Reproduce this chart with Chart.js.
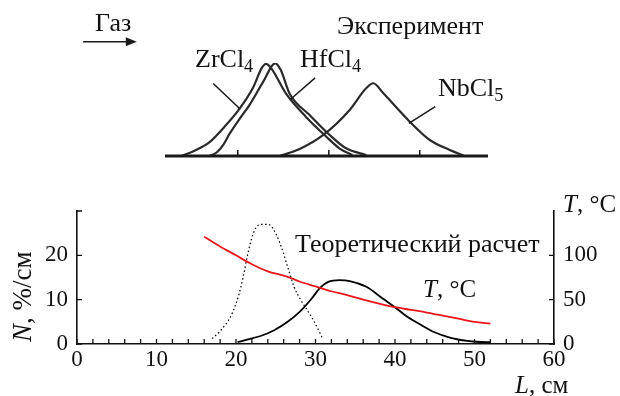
<!DOCTYPE html>
<html>
<head>
<meta charset="utf-8">
<script src="https://cdn.jsdelivr.net/npm/chart.js@4.4.0/dist/chart.umd.min.js"></script>
<style>
  html, body { margin: 0; padding: 0; background: #fff; }
  #wrap { position: relative; width: 620px; height: 396px; overflow: hidden;
          font-family: "Liberation Serif", "Times New Roman", serif; color: #111; }
  canvas { position: absolute; left: 0; }
  .lbl { position: absolute; white-space: nowrap; line-height: 1; font-size: 25px; }
  .top { font-size: 26px; }
  .lbl sub { font-size: 0.7em; vertical-align: -0.3em; line-height: 0; }
  .rot { transform: rotate(-90deg); transform-origin: left top; font-size: 27px; }
</style>
</head>
<body>
<div id="wrap">
  <canvas id="expChart" width="620" height="175" style="top:0"></canvas>
  <canvas id="calcChart" width="620" height="221" style="top:175px"></canvas>

  <div class="lbl top" style="left:95px;top:10px">Газ</div>
  <div class="lbl top" style="left:337px;top:13px">Эксперимент</div>
  <div class="lbl top" style="left:195px;top:46px">ZrCl<sub>4</sub></div>
  <div class="lbl top" style="left:300px;top:46px">HfCl<sub>4</sub></div>
  <div class="lbl top" style="left:438px;top:75px">NbCl<sub>5</sub></div>

  <div class="lbl" style="left:295px;top:231px;font-size:26px">Теоретический расчет</div>
  <div class="lbl" style="left:423px;top:276px"><i>T</i>, °C</div>
  <div class="lbl" style="left:563px;top:191px"><i>T</i>, °C</div>
  <div class="lbl" style="left:515px;top:372px"><i>L</i>, см</div>
  <div class="lbl rot" style="left:9px;top:342px"><i>N</i>, %/см</div>
</div>

<script>
// experiment sketch (top) - arbitrary length units along the column
const zrX = [3.8, 5.3, 6.9, 8.5, 10.2, 11.7, 12.6, 13.1, 13.7, 15.3, 17.5, 19.7, 21.2, 22.6];
const zrY = [0, 6, 15, 31, 51, 74, 94, 99, 94, 67, 42, 21, 8, 1];
const hfX = [6.9, 7.7, 8.4, 9.1, 10.2, 11.3, 12.8, 14.1, 14.7, 15.7, 17.9, 20.1, 21.9, 24.1];
const hfY = [0, 4, 12, 24, 40, 55, 80, 99.7, 93, 67, 44, 22.6, 8.3, 1];
const nbX = [14.6, 16.8, 19.4, 22.3, 24.1, 24.9, 26.0, 28.9, 31.1, 33.3, 34.8];
const nbY = [0, 7.5, 22.6, 49.5, 72.8, 78.2, 67.4, 36.9, 17.2, 6.5, 0.5];
const expTicks = [10, 20, 30];
// leader lines [x1, y1, x2, y2] and gas arrow, in the sketch's own units
const leaders = [
  [7.3, 78, 10.2, 51],
  [18.5, 84, 15.8, 61],
  [31.7, 53, 28.8, 35]
];
const gasArrow = [-7.0, 122.9, -1.1, 122.9];

// theoretical calculation (bottom)
const lTicks = [0, 10, 20, 30, 40, 50, 60];
const nTicks = [0, 10, 20, 30];
const tTicks = [0, 50, 100, 150];
const dotL = [17, 18.1, 19.3, 20.0, 20.4, 20.9, 21.4, 21.9, 22.5, 23.3, 24.2, 25.0, 25.7, 26.5, 27.3, 28.2, 29.5, 30.5, 30.9];
const dotN = [1.2, 3.1, 6.1, 9.1, 11.4, 15.1, 19.6, 23.4, 26.2, 27.0, 26.9, 24.9, 21.9, 17.4, 12.9, 9.8, 6.1, 2.7, 1.2];
const solidL = [20.2, 21.4, 23.1, 24.8, 26.5, 28.2, 29.5, 30.6, 31.6, 33.0, 34.3, 36.4, 38.5, 40.0, 41.5, 43.2, 44.9, 47.0, 49.1, 50.7, 52.0];
const solidN = [0.4, 1.0, 1.8, 3.1, 5.0, 7.6, 10.2, 12.7, 14.0, 14.4, 14.2, 12.9, 10.2, 8.3, 6.2, 4.4, 2.7, 1.4, 0.7, 0.45, 0.4];
const tempL = [16, 18, 20, 22, 24, 26, 27, 28, 30, 32, 34, 36, 38, 40, 42, 44, 46, 48, 50, 52];
const tempT = [121, 110, 100, 90, 82, 77, 74, 70.5, 65, 59.5, 55, 50, 45.5, 41.5, 38.5, 35.5, 32, 28.5, 25, 23];

const pts = (xs, ys) => xs.map((x, i) => ({ x, y: ys[i] }));
const serif = '"Liberation Serif", "Times New Roman", serif';

const expDecor = {
  id: 'expDecor',
  afterDatasetsDraw(chart) {
    const { ctx, scales: { x, y } } = chart;
    const base = y.getPixelForValue(0);
    ctx.save();
    ctx.strokeStyle = '#1a1a1a';
    ctx.lineWidth = 3;
    ctx.beginPath();
    ctx.moveTo(x.getPixelForValue(x.min), base);
    ctx.lineTo(x.getPixelForValue(x.max), base);
    ctx.stroke();

    ctx.lineWidth = 1.5;
    ctx.beginPath();
    expTicks.forEach(v => {
      const px = x.getPixelForValue(v);
      ctx.moveTo(px, base);
      ctx.lineTo(px, base - 6);
    });
    leaders.forEach(([x1, y1, x2, y2]) => {
      ctx.moveTo(x.getPixelForValue(x1), y.getPixelForValue(y1));
      ctx.lineTo(x.getPixelForValue(x2), y.getPixelForValue(y2));
    });
    // arrow shaft
    const ax1 = x.getPixelForValue(gasArrow[0]), ay = y.getPixelForValue(gasArrow[1]);
    const ax2 = x.getPixelForValue(gasArrow[2]);
    ctx.moveTo(ax1, ay);
    ctx.lineTo(ax2 - 8, ay);
    ctx.stroke();
    ctx.fillStyle = '#1a1a1a';
    ctx.beginPath();
    ctx.moveTo(ax2, ay);
    ctx.lineTo(ax2 - 11, ay - 4.5);
    ctx.lineTo(ax2 - 11, ay + 4.5);
    ctx.closePath();
    ctx.fill();
    ctx.restore();
  }
};

const inwardTicks = {
  id: 'inwardTicks',
  afterDatasetsDraw(chart) {
    const { ctx, chartArea: a, scales } = chart;
    ctx.save();
    ctx.strokeStyle = '#111';
    ctx.lineWidth = 1.3;
    ctx.beginPath();
    scales.x.ticks.forEach(t => {
      const px = scales.x.getPixelForValue(t.value);
      ctx.moveTo(px, a.bottom);
      ctx.lineTo(px, a.bottom - 5);
    });
    scales.y.ticks.forEach(t => {
      const py = scales.y.getPixelForValue(t.value);
      ctx.moveTo(a.left, py);
      ctx.lineTo(a.left + 5, py);
    });
    scales.y2.ticks.forEach(t => {
      if (t.value >= tTicks[tTicks.length - 1]) return;
      const py = scales.y2.getPixelForValue(t.value);
      ctx.moveTo(a.right, py);
      ctx.lineTo(a.right - 5, py);
    });
    ctx.stroke();
    ctx.restore();
  }
};

new Chart(document.getElementById('expChart').getContext('2d'), {
  type: 'line',
  data: {
    datasets: [
      { data: pts(zrX, zrY) },
      { data: pts(hfX, hfY) },
      { data: pts(nbX, nbY) }
    ]
  },
  options: {
    responsive: false,
    animation: false,
    layout: { padding: { left: 165, right: 132, top: 63, bottom: 19 } },
    plugins: { legend: { display: false }, tooltip: { enabled: false } },
    elements: {
      point: { radius: 0 },
      line: { borderColor: '#2a2a2a', borderWidth: 2.2, cubicInterpolationMode: 'monotone' }
    },
    scales: {
      x: { type: 'linear', min: 2, max: 37.5, display: false },
      y: { min: 0, max: 100, display: false }
    }
  },
  plugins: [expDecor]
});

const tickFont = { family: serif, size: 23 };

new Chart(document.getElementById('calcChart').getContext('2d'), {
  type: 'line',
  data: {
    datasets: [
      { data: pts(tempL, tempT), yAxisID: 'y2', borderColor: '#e8161c', borderWidth: 1.8 },
      { data: pts(solidL, solidN), yAxisID: 'y', borderColor: '#000', borderWidth: 1.8 },
      { data: pts(dotL, dotN), yAxisID: 'y', borderColor: '#000', borderWidth: 1.2, borderDash: [1.5, 2.5] }
    ]
  },
  options: {
    responsive: false,
    animation: false,
    layout: { padding: { top: 36, left: 0, right: 0, bottom: 0 } },
    plugins: { legend: { display: false }, tooltip: { enabled: false } },
    elements: {
      point: { radius: 0 },
      line: { cubicInterpolationMode: 'monotone' }
    },
    scales: {
      x: {
        type: 'linear', min: lTicks[0], max: lTicks[lTicks.length - 1],
        ticks: {
          stepSize: 2, autoSkip: false, maxRotation: 0, padding: 2,
          color: '#111', font: tickFont,
          callback: v => lTicks.includes(v) ? v : ''
        },
        grid: { display: false, drawTicks: false },
        border: { color: '#111', width: 1.6 },
        afterFit: s => { s.height = 52; }
      },
      y: {
        position: 'left', min: nTicks[0], max: nTicks[nTicks.length - 1],
        ticks: {
          stepSize: 10, padding: 9, color: '#111', font: tickFont,
          callback: v => v < nTicks[nTicks.length - 1] ? v : ''
        },
        grid: { display: false, drawTicks: false },
        border: { color: '#111', width: 1.6 },
        afterFit: s => { s.width = 77; }
      },
      y2: {
        position: 'right', min: tTicks[0], max: tTicks[tTicks.length - 1],
        ticks: {
          stepSize: 50, padding: 9, color: '#111', font: tickFont,
          callback: v => v < tTicks[tTicks.length - 1] ? v : ''
        },
        grid: { display: false, drawTicks: false },
        border: { color: '#111', width: 1.6 },
        afterFit: s => { s.width = 66; }
      }
    }
  },
  plugins: [inwardTicks]
});
</script>
</body>
</html>
